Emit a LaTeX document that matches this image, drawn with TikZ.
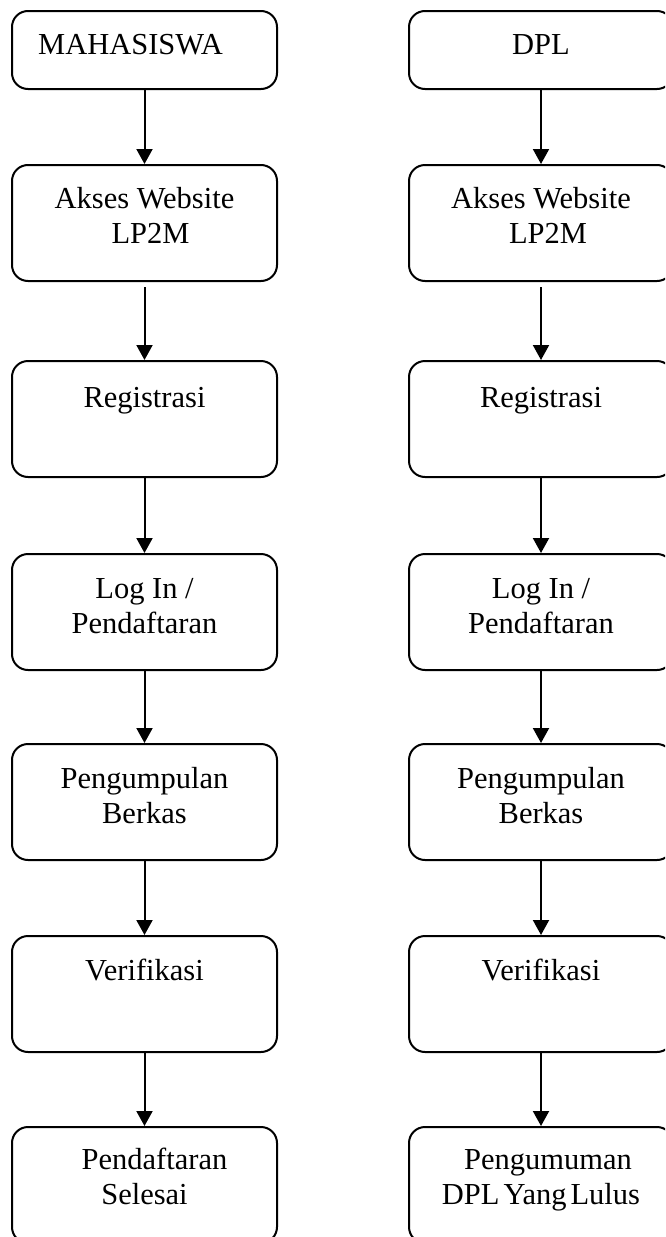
\documentclass[tikz,border=0pt]{standalone}
\usepackage{fontspec}
\setmainfont{Liberation Serif}
\usetikzlibrary{arrows.meta}
\tikzset{
  box/.style={draw, line width=2pt, rounded corners=16pt, minimum height=116pt,
    inner sep=0pt, anchor=north west},
  lbox/.style={box, minimum width=265pt},
  rbox/.style={box, minimum width=264pt},
  lbl/.style={anchor=north, inner sep=0pt, align=center, font=\fontsize{30.5}{35}\selectfont},
  conn/.style={line width=2pt, -{Triangle[width=16pt,length=15pt]}},
}
\newcommand{\fl}{\rule{0pt}{24pt}}
\begin{document}
\begin{tikzpicture}[x=1pt,y=-1pt]
\useasboundingbox (0,0) rectangle (665,1237);
\clip (0,0) rectangle (665,1237);
% left column
\node[lbox, minimum height=78pt] (m1) at (11,10) {};
\node[lbox] (m2) at (11,164) {};
\node[lbox] (m3) at (11,360) {};
\node[lbox] (m4) at (11,553) {};
\node[lbox] (m5) at (11,743) {};
\node[lbox] (m6) at (11,935) {};
\node[lbox] (m7) at (11,1126) {};
% right column
\node[rbox, minimum height=78pt] (d1) at (408,10) {};
\node[rbox] (d2) at (408,164) {};
\node[rbox] (d3) at (408,360) {};
\node[rbox] (d4) at (408,553) {};
\node[rbox] (d5) at (408,743) {};
\node[rbox] (d6) at (408,935) {};
\node[rbox] (d7) at (408,1126) {};
% texts left
\node[lbl] (tm1) at ([xshift=-14pt,yshift=-20pt]m1.north) {\fl MAHASISWA};
\node[lbl] (tm2) at ([yshift=-20pt]m2.north) {\fl Akses Website\\\hspace*{12pt}LP2M};
\node[lbl] (tm3) at ([yshift=-23pt]m3.north) {\fl Registrasi};
\node[lbl] (tm4) at ([yshift=-21pt]m4.north) {\fl Log In /\\Pendaftaran};
\node[lbl] (tm5) at ([yshift=-21pt]m5.north) {\fl Pengumpulan\\Berkas};
\node[lbl] (tm6) at ([yshift=-21pt]m6.north) {\fl Verifikasi};
\node[lbl] (tm7) at ([yshift=-19pt]m7.north) {\fl \hspace*{20pt}Pendaftaran\\Selesai};
% texts right
\node[lbl] (td1) at ([yshift=-20pt]d1.north) {\fl DPL};
\node[lbl] (td2) at ([yshift=-20pt]d2.north) {\fl Akses Website\\\hspace*{14pt}LP2M};
\node[lbl] (td3) at ([yshift=-23pt]d3.north) {\fl Registrasi};
\node[lbl] (td4) at ([yshift=-21pt]d4.north) {\fl Log In /\\Pendaftaran};
\node[lbl] (td5) at ([yshift=-21pt]d5.north) {\fl Pengumpulan\\Berkas};
\node[lbl] (td6) at ([yshift=-21pt]d6.north) {\fl Verifikasi};
\node[lbl] (td7) at ([yshift=-19pt]d7.north) {\fl \hspace*{14pt}Pengumuman\\DPL\hspace{4pt}Yang\hspace{4pt}Lulus};
% connectors
\draw[conn] (m1.south) -- (m2.north);
\draw[conn, shorten <=5pt] (m2.south) -- (m3.north);
\draw[conn] (m3.south) -- (m4.north);
\draw[conn] (m4.south) -- (m5.north);
\draw[conn] (m5.south) -- (m6.north);
\draw[conn] (m6.south) -- (m7.north);
\draw[conn] (d1.south) -- (d2.north);
\draw[conn, shorten <=5pt] (d2.south) -- (d3.north);
\draw[conn] (d3.south) -- (d4.north);
\draw[conn] (d4.south) -- (d5.north);
\draw[conn] (d5.south) -- (d6.north);
\draw[conn] (d6.south) -- (d7.north);
\end{tikzpicture}
\end{document}
